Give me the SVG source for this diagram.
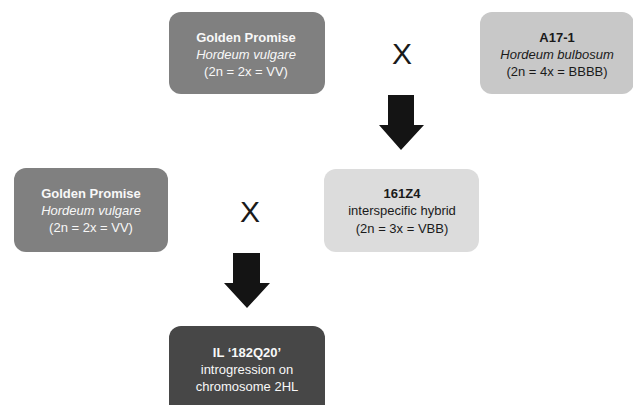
<svg xmlns="http://www.w3.org/2000/svg" width="633" height="405" viewBox="0 0 633 405">
<style>
text{font-family:"Liberation Sans",Arial,sans-serif;font-size:13px;text-anchor:middle}
.b{font-weight:bold}
.i{font-style:italic}
.w{fill:#f8f8f8}
.k{fill:#1a1a1a}
.x{font-size:30px;fill:#1a1a1a}
.arrow{fill:#141414}
</style>
<rect width="633" height="405" fill="#ffffff"/>
<g id="golden-promise-top">
<rect x="169" y="12" width="156" height="82" rx="12" fill="#808080"/>
<text class="b w" x="246" y="42">Golden Promise</text>
<text class="i w" x="246" y="59">Hordeum vulgare</text>
<text class="w" x="246" y="76">(2n = 2x = VV)</text>
</g>
<g id="a17-1">
<rect x="480" y="12" width="154" height="82" rx="12" fill="#c8c8c8"/>
<text class="b k" x="557" y="42">A17-1</text>
<text class="i k" x="557" y="59">Hordeum bulbosum</text>
<text class="k" x="557" y="76">(2n = 4x = BBBB)</text>
</g>
<g id="golden-promise-left">
<rect x="14" y="168" width="154" height="84" rx="12" fill="#808080"/>
<text class="b w" x="91" y="198">Golden Promise</text>
<text class="i w" x="91" y="215">Hordeum vulgare</text>
<text class="w" x="91" y="232">(2n = 2x = VV)</text>
</g>
<g id="hybrid-161z4">
<rect x="324" y="169" width="155" height="83" rx="12" fill="#dcdcdc"/>
<text class="b k" x="402" y="198">161Z4</text>
<text class="k" x="402" y="215">interspecific hybrid</text>
<text class="k" x="402" y="233">(2n = 3x = VBB)</text>
</g>
<g id="il-182q20">
<rect x="169" y="326" width="156" height="95" rx="12" fill="#474747"/>
<text class="b w" x="247" y="357">IL ‘182Q20’</text>
<text class="w" x="247" y="374">introgression on</text>
<text class="w" x="247" y="391">chromosome 2HL</text>
</g>
<g id="connectors">
<text class="x" x="402" y="64">X</text>
<text class="x" x="250" y="222">X</text>
<polygon class="arrow" points="388,95 414,95 414,125 424,125 401,150 379,125 388,125"/>
<polygon class="arrow" points="233,253 260,253 260,283 270,283 247,308 224,283 233,283"/>
</g>
</svg>
